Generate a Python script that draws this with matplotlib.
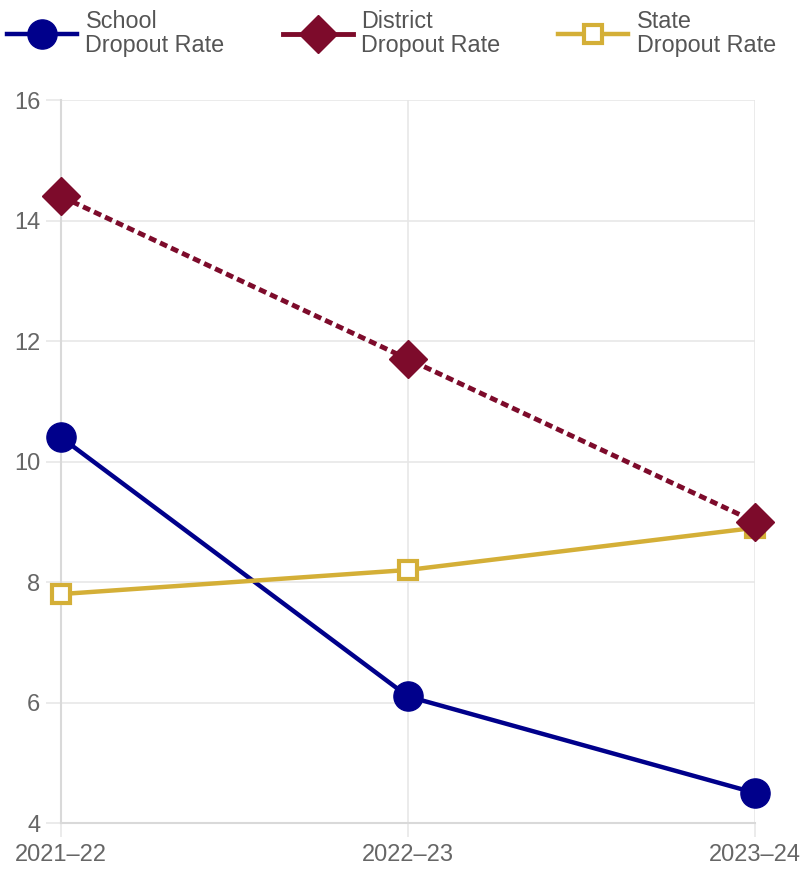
#!/usr/bin/env python3
"""Dropout rate trend: school vs district vs state."""

import matplotlib

matplotlib.use("Agg")
import matplotlib.pyplot as plt
from matplotlib.lines import Line2D

years = ["2021\u201322", "2022\u201323", "2023\u201324"]
school_rate = [10.4, 6.1, 4.5]
district_rate = [14.4, 11.7, 9.0]
state_rate = [7.8, 8.2, 8.9]
y_ticks = [4, 6, 8, 10, 12, 14, 16]

NAVY = "#00008b"
MAROON = "#7d0b2b"
GOLD = "#d4af37"
GRID = "#e6e6e6"
TEXT = "#666666"

plt.rcParams["font.family"] = ["Liberation Sans", "DejaVu Sans"]

fig = plt.figure(figsize=(8.04, 8.75), dpi=100)
ax = fig.add_axes([0.0759, 0.0594, 0.9391 - 0.0759, 0.8857 - 0.0594])

x = list(range(len(years)))

school_style = dict(color=NAVY, linewidth=3.2, marker="o", markersize=21,
                    markeredgewidth=1, markerfacecolor=NAVY, markeredgecolor=NAVY)
district_style = dict(color=MAROON, linewidth=3.5, marker="D", markersize=19,
                      markeredgewidth=1, markerfacecolor=MAROON,
                      markeredgecolor=MAROON)
state_style = dict(color=GOLD, linewidth=3.2, marker="s", markersize=12.5,
                   markeredgewidth=3, markerfacecolor="white",
                   markeredgecolor=GOLD)

ax.plot(x, school_rate, clip_on=False, zorder=3, **school_style)
ax.plot(x, district_rate, linestyle=(0, (1.6, 0.9)), clip_on=False, zorder=4,
        **district_style)
ax.plot(x, state_rate, clip_on=False, zorder=3, **state_style)

ax.set_xlim(0, len(years) - 1)
ax.set_ylim(4, 16)
ax.set_xticks(x)
ax.set_xticklabels(years)
ax.set_yticks(y_ticks)

ax.grid(True, color=GRID, linewidth=1.1)
ax.set_axisbelow(True)
for side in ("top", "right"):
    ax.spines[side].set_visible(False)
for side in ("left", "bottom"):
    ax.spines[side].set_color("#d9d9d9")
    ax.spines[side].set_linewidth(1.5)
ax.tick_params(axis="both", colors=GRID, labelcolor=TEXT, labelsize=17,
               width=1.1)
ax.tick_params(axis="y", length=11, pad=4)
ax.tick_params(axis="x", length=10, pad=5)

# legend keys are drawn solid for every series
handles = [
    Line2D([], [], **school_style),
    Line2D([], [], **district_style),
    Line2D([], [], **state_style),
]
labels = ["School\nDropout Rate", "District\nDropout Rate", "State\nDropout Rate"]
leg = fig.legend(handles, labels, loc="upper left",
                 bbox_to_anchor=(0.009, 0.989), ncol=3, frameon=False,
                 fontsize=16.8, handlelength=3.0, handletextpad=0.35,
                 columnspacing=2.5, borderpad=0, borderaxespad=0,
                 labelcolor="#555555")
for text in leg.get_texts():
    text.set_linespacing(1.05)

fig.savefig("out.png", dpi=100)
